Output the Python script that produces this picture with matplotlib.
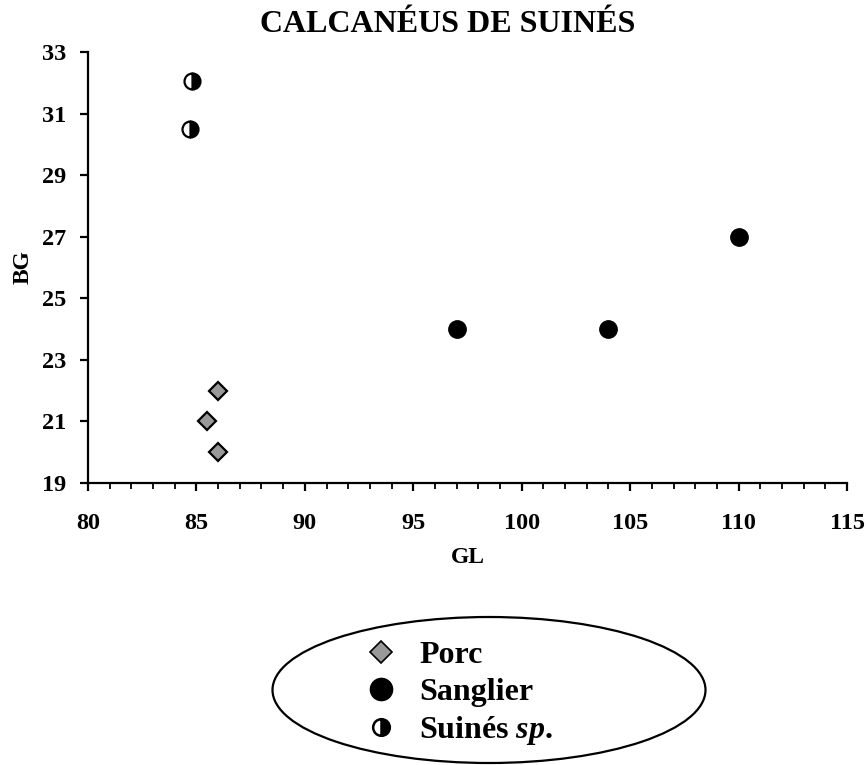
import matplotlib
matplotlib.use('Agg')
import matplotlib.pyplot as plt
from matplotlib.lines import Line2D
from matplotlib.patches import Ellipse
from matplotlib.ticker import MultipleLocator, FixedLocator

plt.rcParams['font.family'] = 'Liberation Serif'
plt.rcParams['font.weight'] = 'bold'
plt.rcParams['mathtext.fontset'] = 'custom'
plt.rcParams['mathtext.it'] = 'Liberation Serif:italic:bold'
plt.rcParams['mathtext.rm'] = 'Liberation Serif:bold'

title = 'CALCANÉUS DE SUINÉS'

porc_gl = [86, 85.5, 86]
porc_bg = [22, 21, 20]

sanglier_gl = [97, 104, 110]
sanglier_bg = [24, 24, 27]

suines_gl = [84.8, 84.7]
suines_bg = [32.05, 30.5]

y_ticks = [19, 21, 23, 25, 27, 29, 31, 33]

fig = plt.figure(figsize=(8.67, 7.65), dpi=100)
ax = fig.add_axes([88 / 867, 1 - 483 / 765, (847 - 88) / 867, (483 - 52) / 765])

ax.plot(porc_gl, porc_bg, linestyle='none', marker='D', markersize=9.5,
        markerfacecolor='#999999', markeredgecolor='black', markeredgewidth=1.6,
        clip_on=False)
ax.plot(sanglier_gl, sanglier_bg, linestyle='none', marker='o', markersize=12.5,
        markerfacecolor='black', markeredgecolor='black', clip_on=False)
ax.plot(suines_gl, suines_bg, linestyle='none', marker='o', markersize=11.5,
        fillstyle='right', markerfacecolor='black', markerfacecoloralt='white',
        markeredgecolor='black', markeredgewidth=1.6, clip_on=False)

ax.set_xlim(80, 115)
ax.set_ylim(19, 33)
ax.xaxis.set_major_locator(MultipleLocator(5))
ax.xaxis.set_minor_locator(MultipleLocator(1))
ax.yaxis.set_major_locator(FixedLocator(y_ticks))

for side in ['top', 'right']:
    ax.spines[side].set_visible(False)
for side in ['left', 'bottom']:
    ax.spines[side].set_linewidth(1.6)

ax.tick_params(axis='both', which='major', direction='out', length=6, width=1.6,
               labelsize=17.5)
ax.tick_params(axis='x', which='major', pad=15.5)
ax.tick_params(axis='x', which='minor', direction='out', length=4.5, width=1.3)
ax.tick_params(axis='y', which='major', pad=10)

ax.set_xlabel('GL', fontsize=17, fontweight='bold', labelpad=9.5)
ax.set_ylabel('BG', fontsize=17, fontweight='bold', labelpad=6)

fig.text(448 / 867, 1 - 24 / 765, title, fontsize=23, fontweight='bold',
         ha='center', va='center')

# legend inside an ellipse
ell = Ellipse((489 / 867, 1 - 690 / 765), 433 / 867, 146 / 765,
              transform=fig.transFigure, facecolor='none', edgecolor='black',
              linewidth=1.6)
fig.add_artist(ell)

handles = [
    Line2D([], [], linestyle='none', marker='D', markersize=11.5,
           markerfacecolor='#999999', markeredgecolor='black', markeredgewidth=1.2),
    Line2D([], [], linestyle='none', marker='o', markersize=16,
           markerfacecolor='black', markeredgecolor='black'),
    Line2D([], [], linestyle='none', marker='o', markersize=12, fillstyle='right',
           markerfacecolor='black', markerfacecoloralt='white',
           markeredgecolor='black', markeredgewidth=1.8),
]
labels = ['Porc', 'Sanglier', r'Suinés $\mathit{sp.}$']
fig.legend(handles, labels, loc='center left',
           bbox_to_anchor=(352 / 867, 1 - 694 / 765), frameon=False,
           prop={'size': 23, 'weight': 'bold'}, handlelength=0.8,
           handletextpad=0.8, labelspacing=0.22, borderpad=0)

fig.savefig('out.png', dpi=100)
